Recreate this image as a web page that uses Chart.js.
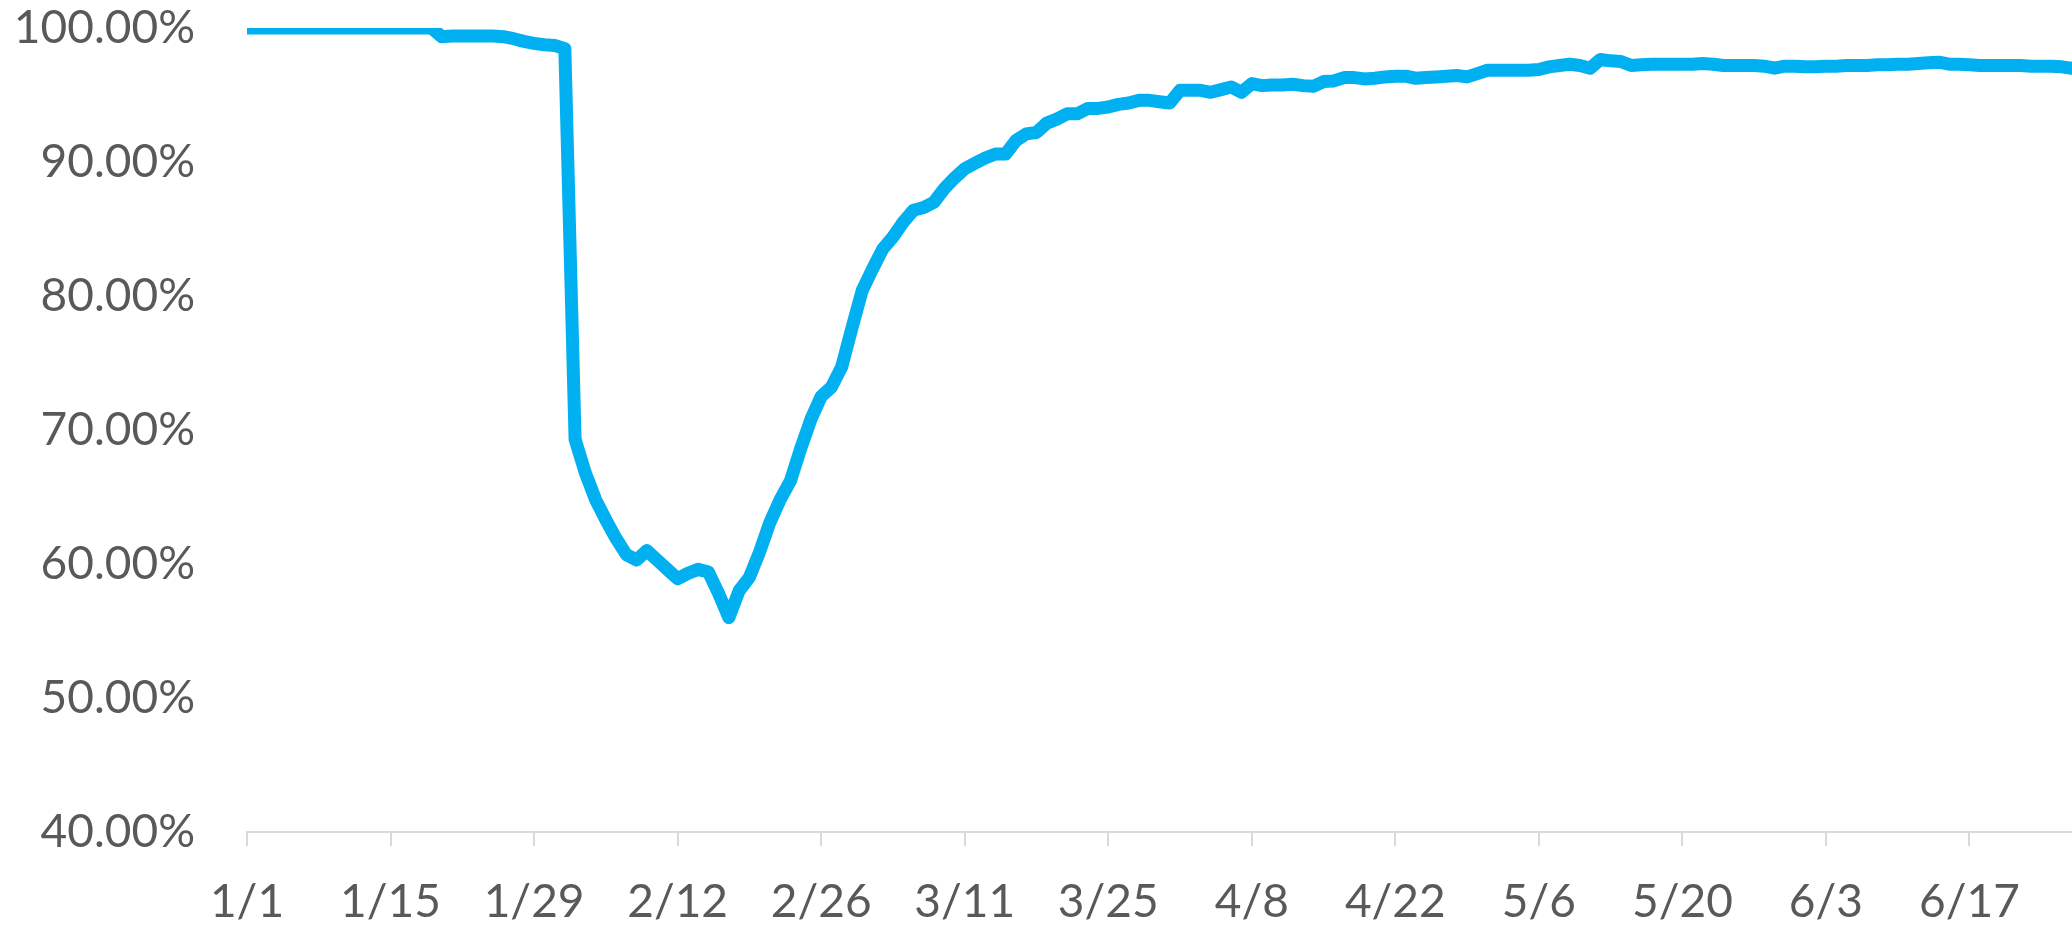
<!DOCTYPE html>
<html>
<head>
<meta charset="utf-8">
<script src="https://cdn.jsdelivr.net/npm/chart.js@4.4.1/dist/chart.umd.min.js"></script>
<style>
  html, body { margin: 0; padding: 0; background: #ffffff; }
  #wrap { width: 2072px; height: 926px; position: relative; }
</style>
</head>
<body>
<div id="wrap"><canvas id="rateChart"></canvas></div>
<script>
// first day of the series and how many days it covers (1/1 .. 6/27)
const startMonth = 1, startDay = 1;
const dayCount = 179;

// daily value, %
const rateValues = [
  100, 100, 100, 100, 100, 100, 100, 100, 100, 100,
  100, 100, 100, 100, 100, 100, 100, 100, 100, 99.35,
  99.4, 99.4, 99.4, 99.4, 99.4, 99.35, 99.2, 99.0, 98.85, 98.75,
  98.7, 98.45, 69.3, 66.8, 64.8, 63.3, 61.9, 60.7, 60.3, 61.0,
  60.3, 59.6, 58.9, 59.3, 59.6, 59.4, 57.8, 56.0, 58.0, 59.0,
  60.9, 63.1, 64.8, 66.2, 68.6, 70.8, 72.5, 73.2, 74.7, 77.6,
  80.4, 82.0, 83.5, 84.4, 85.5, 86.4, 86.6, 87.0, 88.0, 88.8,
  89.5, 89.9, 90.3, 90.6, 90.6, 91.6, 92.1, 92.2, 92.9, 93.2,
  93.6, 93.6, 94.0, 94.0, 94.1, 94.3, 94.4, 94.6, 94.6, 94.5,
  94.4, 95.35, 95.35, 95.35, 95.2, 95.4, 95.6, 95.2, 95.85, 95.7,
  95.75, 95.75, 95.8, 95.7, 95.65, 96.0, 96.05, 96.3, 96.3, 96.2,
  96.25, 96.35, 96.4, 96.4, 96.25, 96.3, 96.35, 96.4, 96.45, 96.35,
  96.6, 96.85, 96.85, 96.85, 96.85, 96.85, 96.9, 97.1, 97.2, 97.3,
  97.2, 97.0, 97.65, 97.55, 97.5, 97.2, 97.25, 97.3, 97.3, 97.3,
  97.3, 97.3, 97.35, 97.3, 97.2, 97.2, 97.2, 97.2, 97.15, 97.0,
  97.15, 97.15, 97.1, 97.1, 97.15, 97.15, 97.2, 97.2, 97.2, 97.25,
  97.25, 97.3, 97.3, 97.35, 97.4, 97.45, 97.3, 97.3, 97.25, 97.2,
  97.2, 97.2, 97.2, 97.2, 97.15, 97.15, 97.15, 97.1, 97.0
];

// y axis range
const yMin = 40, yMax = 100, yStep = 10;
// one labelled tick every 14 days
const tickEvery = 14;

// day labels like 1/1, 1/2 ... (2020 calendar)
const dayLabels = [];
for (let i = 0; i < dayCount; i++) {
  const d = new Date(2020, startMonth - 1, startDay + i);
  dayLabels.push((d.getMonth() + 1) + '/' + d.getDate());
}

const textGrey = '#595959';
const axisGrey = '#d9d9d9';
const fontFam = 'Lato, "Open Sans", sans-serif';

new Chart(document.getElementById('rateChart'), {
  type: 'line',
  data: {
    labels: dayLabels,
    datasets: [{
      data: rateValues,
      borderColor: '#00b0f0',
      borderWidth: 13,
      borderJoinStyle: 'round',
      borderCapStyle: 'round',
      pointRadius: 0,
      tension: 0,
      fill: false,
      clip: 0
    }]
  },
  options: {
    responsive: true,
    maintainAspectRatio: false,
    animation: false,
    layout: { padding: { top: 28, right: 0, bottom: 0, left: 0 } },
    plugins: { legend: { display: false }, tooltip: { enabled: false } },
    scales: {
      x: {
        type: 'category',
        offset: false,
        afterBuildTicks: (scale) => { scale.ticks = scale.ticks.filter(t => t.value % tickEvery === 0); },
        afterFit: (scale) => { scale.height = 94; scale.paddingLeft = 0; scale.paddingRight = 0; },
        grid: { display: true, drawOnChartArea: false, drawTicks: true, tickLength: 14, color: axisGrey, lineWidth: 2 },
        border: { display: true, color: axisGrey, width: 2 },
        ticks: {
          autoSkip: false,
          maxRotation: 0,
          padding: 29,
          color: textGrey,
          font: { family: fontFam, size: 46 }
        }
      },
      y: {
        min: yMin,
        max: yMax,
        // fixed axis width, and no extra room above the top label
        afterFit: (scale) => { scale.width = 247; scale.paddingTop = 0; scale.paddingBottom = 0; },
        grid: { display: false, drawTicks: false },
        border: { display: false },
        ticks: {
          stepSize: yStep,
          padding: 52,
          color: textGrey,
          font: { family: fontFam, size: 46 },
          callback: (v) => v.toFixed(2) + '%'
        }
      }
    }
  }
});
</script>
</body>
</html>
